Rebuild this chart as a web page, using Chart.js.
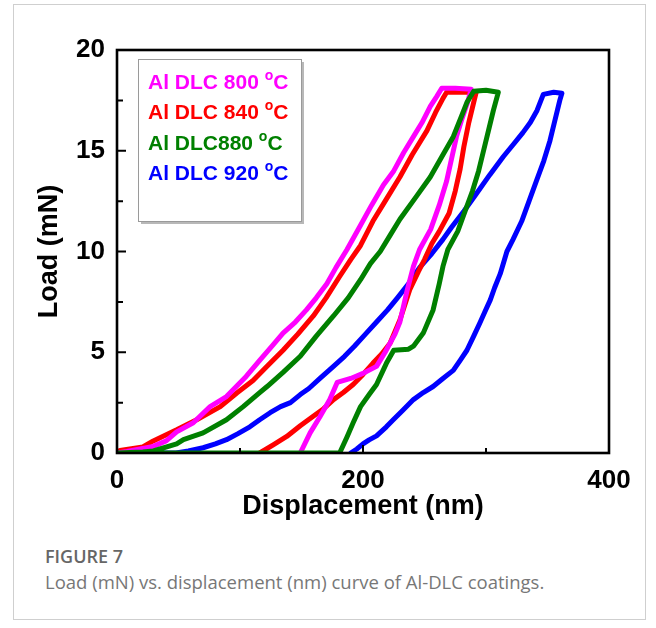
<!DOCTYPE html>
<html>
<head>
<meta charset="utf-8">
<script src="https://cdn.jsdelivr.net/npm/chart.js@4"></script>
<style>
  html, body { margin: 0; padding: 0; background: #fff; width: 656px; height: 628px; overflow: hidden; }
  #frame { position: absolute; left: 13px; top: 4px; width: 633px; height: 616px; box-sizing: border-box; border: 1px solid #cfcfcf; }
  #wrap { position: absolute; left: 0; top: 0; width: 656px; height: 530px; }
  #cap1 { position: absolute; left: 45px; top: 544px; font-family: "Open Sans", sans-serif; font-weight: 600; font-size: 18px; color: #666; }
  #cap2 { position: absolute; left: 45px; top: 569px; font-family: "Open Sans", sans-serif; font-weight: 400; font-size: 18.5px; color: #777; }
</style>
</head>
<body>
<div id="frame"></div>
<div id="wrap"><canvas id="c" width="656" height="530"></canvas></div>
<div id="cap1">FIGURE 7</div>
<div id="cap2">Load (mN) vs. displacement (nm) curve of Al-DLC coatings.</div>
<script>
// ---------- data ----------
const seriesLabels = ["Al DLC 800 ", "Al DLC 840 ", "Al DLC880 ", "Al DLC 920 "];
const seriesColors = ["#FF00FF", "#FF0000", "#008000", "#0000FF"];

const disp800 = [0, 8, 29.5, 40, 48.5, 62, 75.7, 89, 105, 116, 126, 135, 145, 154, 162, 170.6, 178, 187, 198, 207, 216.6, 225, 233, 241, 248, 254.7, 260, 264,
  275, 288,
  285, 280, 276, 272, 268, 262, 255, 246, 241, 236, 230, 226, 218, 211, 200, 190, 179, 173, 165, 157, 149];
const load800 = [0, 0.08, 0.33, 0.6, 1.05, 1.5, 2.3, 2.8, 3.8, 4.6, 5.3, 5.95, 6.5, 7.1, 7.7, 8.4, 9.2, 10.1, 11.3, 12.3, 13.3, 14.0, 14.9, 15.7, 16.4, 17.2, 17.7, 18.1,
  18.1, 18.05,
  17.4, 16.5, 15.7, 14.6, 13.5, 12.3, 11.1, 10.1, 9.26, 8.1, 6.5, 5.9, 5.0, 4.3, 3.95, 3.7, 3.5, 2.65, 1.8, 1.0, 0];

const disp840 = [0, 2.4, 21, 29.5, 48.5, 64.8, 84, 97.4, 110.6, 122, 135, 147, 159.6, 170, 181, 190, 198, 208, 218, 230, 240, 252, 259, 265, 268,
  280, 292,
  290, 286, 282, 279, 275, 270, 262, 256, 250, 245, 238, 230, 222, 215, 208, 200, 192, 184, 176, 168, 159, 149, 138, 127, 116];
const load840 = [0, 0.13, 0.3, 0.6, 1.15, 1.65, 2.3, 2.98, 3.6, 4.3, 5.1, 5.9, 6.8, 7.7, 8.76, 9.6, 10.3, 11.5, 12.5, 13.7, 14.8, 16.0, 16.9, 17.6, 17.9,
  17.9, 17.9,
  17.4, 16.4, 15.2, 14.1, 13.0, 11.9, 11.0, 10.4, 9.6, 9.0, 8.1, 6.6, 5.45, 4.9, 4.45, 3.9, 3.4, 3.0, 2.65, 2.2, 1.8, 1.35, 0.82, 0.4, 0];

const disp880 = [0, 21, 29.5, 48.5, 54, 70, 89, 102.6, 116, 122, 135, 149, 162, 176, 188, 198, 206, 214, 222, 230, 243, 254.7, 265, 273.4, 280, 284.5, 290,
  300, 310,
  306, 302, 298, 294, 289, 283, 277, 269, 265, 262, 257, 249, 241, 237, 225, 219, 211, 205, 198, 192, 187, 184, 181, 0];
const load880 = [0, 0.05, 0.1, 0.45, 0.66, 1.0, 1.65, 2.3, 3.0, 3.3, 4.0, 4.8, 5.8, 6.8, 7.7, 8.6, 9.4, 10.0, 10.8, 11.6, 12.7, 13.7, 14.8, 15.7, 16.7, 17.4, 17.95,
  18.0, 17.9,
  17.0, 16.0, 15.0, 14.0, 13.0, 12.0, 11.0, 10.1, 9.26, 8.4, 7.1, 5.95, 5.3, 5.15, 5.1, 4.45, 3.4, 2.9, 2.3, 1.5, 0.8, 0.4, 0, 0];

const disp920 = [0, 48, 58, 70, 80, 89, 98, 108, 116, 124.5, 133, 141, 149, 156, 165, 176, 185, 193, 202, 211, 220, 228, 237, 246, 256, 265, 272, 282, 292.6, 303, 314, 322, 330, 336, 341.5, 346.6,
  355, 361.7,
  360, 356, 352, 347, 341, 335, 329, 322, 317, 311.6, 307, 303.5, 299, 295, 290, 284.5, 279, 273.4, 265, 257, 249, 241, 232, 224.6, 219, 211, 205, 200, 195, 190];
const load920 = [0, 0, 0.1, 0.26, 0.45, 0.66, 0.95, 1.3, 1.65, 2.0, 2.3, 2.5, 2.9, 3.2, 3.7, 4.3, 4.8, 5.3, 5.9, 6.5, 7.1, 7.7, 8.4, 9.2, 9.9, 10.6, 11.2, 12.0, 12.9, 13.8, 14.7, 15.3, 15.9, 16.4, 17.0, 17.8,
  17.9, 17.85,
  17.5, 16.5, 15.5, 14.5, 13.5, 12.5, 11.5, 10.6, 10.0, 8.9, 8.2, 7.6, 7.0, 6.45, 5.8, 5.1, 4.6, 4.1, 3.7, 3.3, 3.0, 2.65, 2.1, 1.65, 1.3, 0.85, 0.65, 0.45, 0.2, 0];

const xTickValues = [0, 200, 400];
const yTickValues = [0, 5, 10, 15, 20];
const xMinorTicks = [100, 300];
const yMinorTicks = [2.5, 7.5, 12.5, 17.5];

// ---------- build ----------
function pts(xs, ys) { return xs.map((x, i) => ({ x: x, y: ys[i] })); }
const allX = [disp800, disp840, disp880, disp920];
const allY = [load800, load840, load880, load920];
const drawOrder = [1, 2, 0, 3]; // green on top

const datasets = seriesLabels.map((lab, i) => ({
  label: lab + "°C",
  data: pts(allX[i], allY[i]),
  borderColor: seriesColors[i],
  backgroundColor: seriesColors[i],
  borderWidth: 5,
  showLine: true,
  pointRadius: 0,
  tension: 0,
  borderJoinStyle: 'round',
  borderCapStyle: 'round',
  order: drawOrder[i]
}));

const frameAndTicks = {
  id: 'frameAndTicks',
  afterDatasetsDraw(chart) {
    const ctx = chart.ctx;
    const a = chart.chartArea;
    const xs = chart.scales.x, ys = chart.scales.y;
    ctx.save();
    ctx.strokeStyle = '#000';
    ctx.lineWidth = 2.6;
    ctx.lineCap = 'butt';
    ctx.strokeRect(a.left, a.top, a.right - a.left, a.bottom - a.top);
    ctx.lineWidth = 2;
    ctx.beginPath();
    yTickValues.forEach(v => { const p = ys.getPixelForValue(v); ctx.moveTo(a.left, p); ctx.lineTo(a.left + 9, p); });
    yMinorTicks.forEach(v => { const p = ys.getPixelForValue(v); ctx.moveTo(a.left, p); ctx.lineTo(a.left + 6, p); });
    xTickValues.forEach(v => { const p = xs.getPixelForValue(v); ctx.moveTo(p, a.bottom); ctx.lineTo(p, a.bottom - 8); });
    xMinorTicks.forEach(v => { const p = xs.getPixelForValue(v); ctx.moveTo(p, a.bottom); ctx.lineTo(p, a.bottom - 5); });
    ctx.stroke();

    // legend box
    const bx = 138, by = 59, bw = 163, bh = 162;
    ctx.fillStyle = '#b8b8b8';
    ctx.fillRect(bx + 3, by + 3, bw, bh);
    ctx.fillStyle = '#fff';
    ctx.fillRect(bx, by, bw, bh);
    ctx.strokeStyle = '#9a9a9a';
    ctx.lineWidth = 1;
    ctx.strokeRect(bx + 0.5, by + 0.5, bw, bh);
    const font = 'bold 21px "Liberation Sans", Arial, sans-serif';
    const supFont = 'bold 14px "Liberation Sans", Arial, sans-serif';
    ctx.textBaseline = 'middle';
    ctx.textAlign = 'left';
    chart.data.datasets.forEach((ds, i) => {
      const y = 83 + i * 30.4;
      let x = 148;
      ctx.fillStyle = ds.borderColor;
      ctx.font = font;
      const base = seriesLabels[i];
      ctx.fillText(base, x, y);
      x += ctx.measureText(base).width;
      ctx.font = supFont;
      ctx.fillText('o', x, y - 7);
      x += ctx.measureText('o').width;
      ctx.font = font;
      ctx.fillText('C', x, y);
    });
    ctx.restore();
  }
};

new Chart(document.getElementById('c'), {
  type: 'scatter',
  data: { datasets: datasets },
  options: {
    responsive: false,
    animation: false,
    layout: { padding: { left: 0, right: 47, top: 50, bottom: 0 } },
    plugins: { legend: { display: false }, tooltip: { enabled: false } },
    scales: {
      x: {
        type: 'linear', min: 0, max: 400,
        afterFit(s) { s.height = 77; },
        afterBuildTicks(s) { s.ticks = xTickValues.map(v => ({ value: v })); },
        grid: { display: false, drawTicks: false },
        border: { display: false },
        ticks: { color: '#000', padding: 12, font: { family: '"Liberation Sans", Arial, sans-serif', weight: 'bold', size: 26 } },
        title: { display: true, text: 'Displacement (nm)', color: '#000', padding: { top: 0, bottom: 7 },
                 font: { family: '"Liberation Sans", Arial, sans-serif', weight: 'bold', size: 27 } }
      },
      y: {
        type: 'linear', min: 0, max: 20,
        afterFit(s) { s.width = 117; },
        afterBuildTicks(s) { s.ticks = yTickValues.map(v => ({ value: v })); },
        grid: { display: false, drawTicks: false },
        border: { display: false },
        ticks: { color: '#000', padding: 12, font: { family: '"Liberation Sans", Arial, sans-serif', weight: 'bold', size: 26 } },
        title: { display: true, text: 'Load (mN)', color: '#000', padding: { top: 33, bottom: 0 },
                 font: { family: '"Liberation Sans", Arial, sans-serif', weight: 'bold', size: 27 } }
      }
    }
  },
  plugins: [frameAndTicks]
});
</script>
</body>
</html>
